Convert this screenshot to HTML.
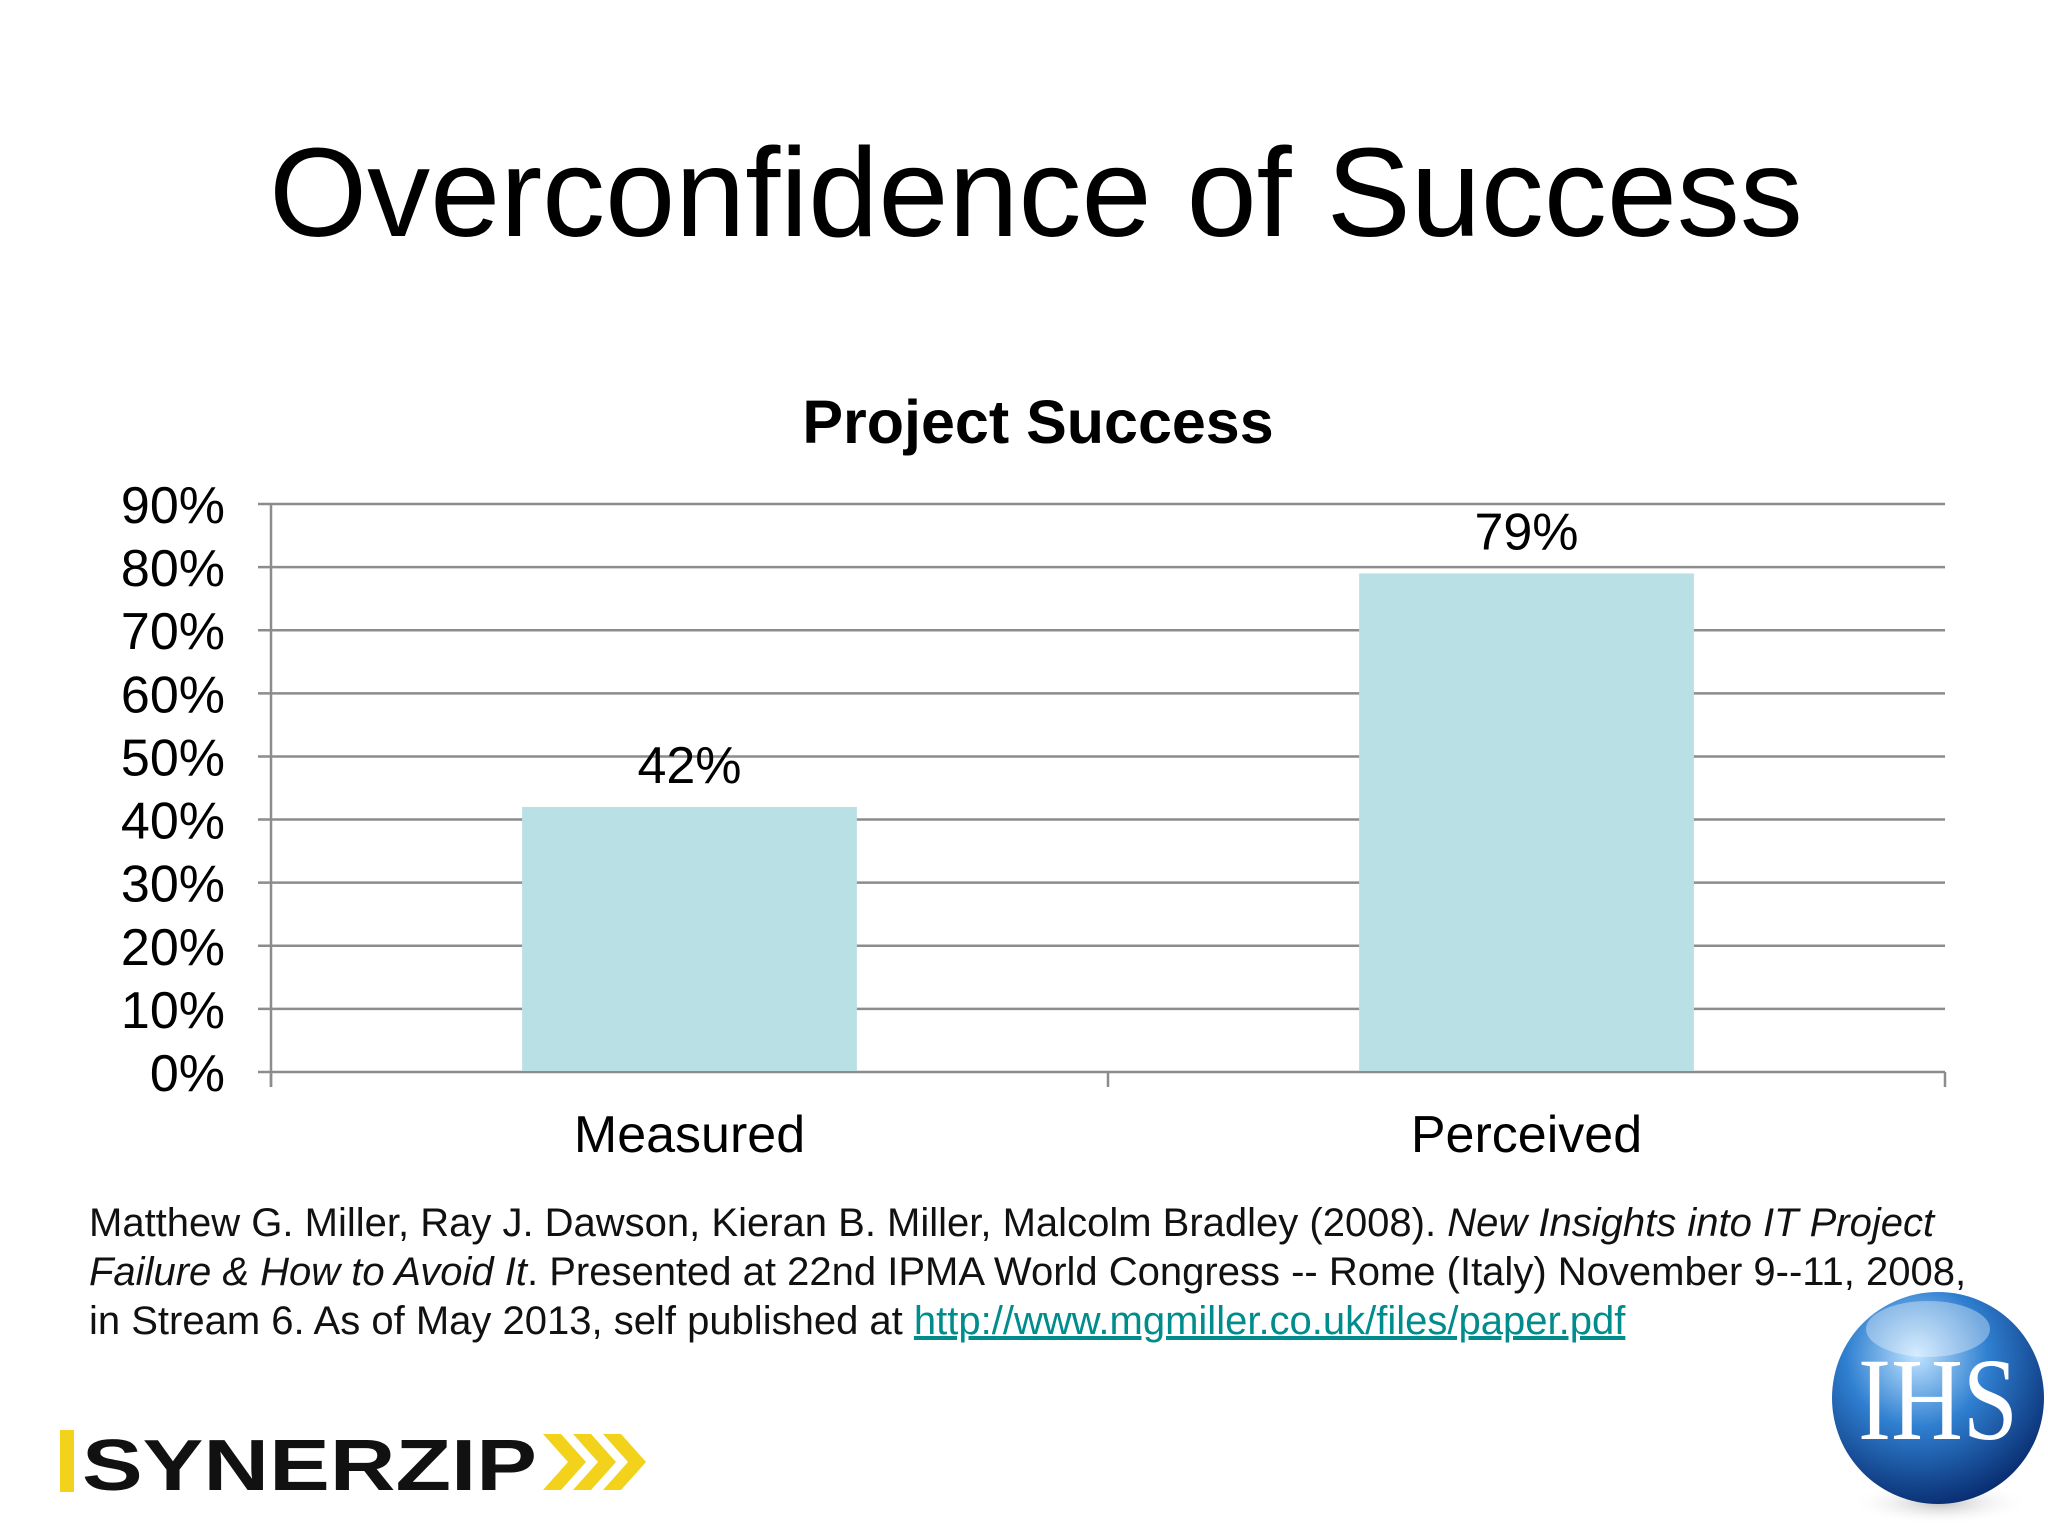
<!DOCTYPE html>
<html><head><meta charset="utf-8"><style>
html,body{margin:0;padding:0;background:#fff;}
body{width:2048px;height:1536px;position:relative;overflow:hidden;font-family:"Liberation Sans",Arial,sans-serif;}
.cite{position:absolute;left:89px;top:1199px;font-size:40px;line-height:49px;color:#111;white-space:nowrap;}
.cite a{color:#008c8c;text-decoration:underline;}
</style></head><body>
<div style="position:absolute;left:0;width:2072px;text-align:center;top:118px;font-size:126px;line-height:150px;color:#000;">Overconfidence of Success</div>
<svg id="chart" width="2048" height="1200" style="position:absolute;left:0;top:0;" font-family="Liberation Sans, Arial, sans-serif"></svg>
<div class="cite">Matthew G. Miller, Ray J. Dawson, Kieran B. Miller, Malcolm Bradley (2008). <i>New Insights into IT Project</i><br><i>Failure &amp; How to Avoid It</i>. Presented at 22nd IPMA World Congress -- Rome (Italy) November 9--11, 2008,<br>in Stream 6. As of May 2013, self published at <a>http://www.mgmiller.co.uk/files/paper.pdf</a></div>
<svg width="600" height="80" style="position:absolute;left:58px;top:1422px;">
<rect x="2" y="8" width="14" height="62" fill="#f2d21b"/>
<text x="24" y="68" font-family="Liberation Sans, Arial, sans-serif" font-weight="bold" font-size="72" fill="#111" textLength="455" lengthAdjust="spacingAndGlyphs">SYNERZIP</text>
<polygon points="485,12 503,12 528,40 503,68 485,68 510,40" fill="#f2d21b"/>
<polygon points="515,12 533,12 558,40 533,68 515,68 540,40" fill="#f2d21b"/>
<polygon points="545,12 563,12 588,40 563,68 545,68 570,40" fill="#f2d21b"/>
</svg>
<svg width="240" height="260" style="position:absolute;left:1818px;top:1271px;">
<defs><radialGradient id="g" cx="0.4" cy="0.3" r="0.75"><stop offset="0" stop-color="#bfe3ff"/><stop offset="0.45" stop-color="#2f7fd0"/><stop offset="1" stop-color="#06276a"/></radialGradient>
<radialGradient id="sh" cx="0.5" cy="0.5" r="0.5"><stop offset="0" stop-color="#999" stop-opacity="0.6"/><stop offset="1" stop-color="#fff" stop-opacity="0"/></radialGradient></defs>
<ellipse cx="122" cy="232" rx="90" ry="22" fill="url(#sh)"/>
<circle cx="120" cy="127" r="106" fill="url(#g)"/>
<ellipse cx="110" cy="58" rx="62" ry="28" fill="#fff" opacity="0.35"/>
<text x="120" y="168" text-anchor="middle" font-family="Liberation Serif, serif" font-size="118" fill="#fff" textLength="160" lengthAdjust="spacingAndGlyphs">IHS</text>
</svg>
<script>
const categories = ["Measured","Perceived"];
const values = [42,79];
const valueLabels = ["42%","79%"];
const yTicks = [0,10,20,30,40,50,60,70,80,90];
const ns = "http://www.w3.org/2000/svg";
const svg = document.getElementById("chart");
const L=271,R=1945,T=504,B=1072,yMax=90;
const y = v => B - (v/yMax)*(B-T);
const bandW = (R-L)/categories.length;
const xC = i => L + bandW*(i+0.5);
function mk(tag, attrs, text){const e=document.createElementNS(ns,tag);for(const k in attrs)e.setAttribute(k,attrs[k]);if(text!==undefined)e.textContent=text;svg.appendChild(e);return e;}
const ct = mk("text",{x:1038,y:443,"text-anchor":"middle","font-size":61,"font-weight":"bold",fill:"#000"},"Project Success");


yTicks.forEach(t=>{
  const g = mk("line",{x1:258,x2:R,y1:y(t),y2:y(t),stroke:"#8c8c8c","stroke-width":2.5});
  
  
  const lb = mk("text",{x:225,y:y(t)+19,"text-anchor":"end","font-size":52,fill:"#000"},t+"%");
  
  
});
const ax = mk("line",{x1:L,x2:L,y1:T,y2:B+15,stroke:"#8c8c8c","stroke-width":2.5});


for(let i=0;i<=categories.length;i++){
  const tk = mk("line",{x1:L+bandW*i,x2:L+bandW*i,y1:B,y2:B+15,stroke:"#8c8c8c","stroke-width":2.5});
  
  
}
categories.forEach((c,i)=>{
  const w = bandW*0.4;
  const b = mk("rect",{x:xC(i)-w/2,y:y(values[i]),width:w,height:B-y(values[i])-1,fill:"#b9e0e5"});
  
  
  const vl = mk("text",{x:xC(i),y:y(values[i])-24,"text-anchor":"middle","font-size":52,fill:"#000"},valueLabels[i]);
  
  
  const cl = mk("text",{x:xC(i),y:1152,"text-anchor":"middle","font-size":52,fill:"#000"},c);
  
  
});
</script>
</body></html>
